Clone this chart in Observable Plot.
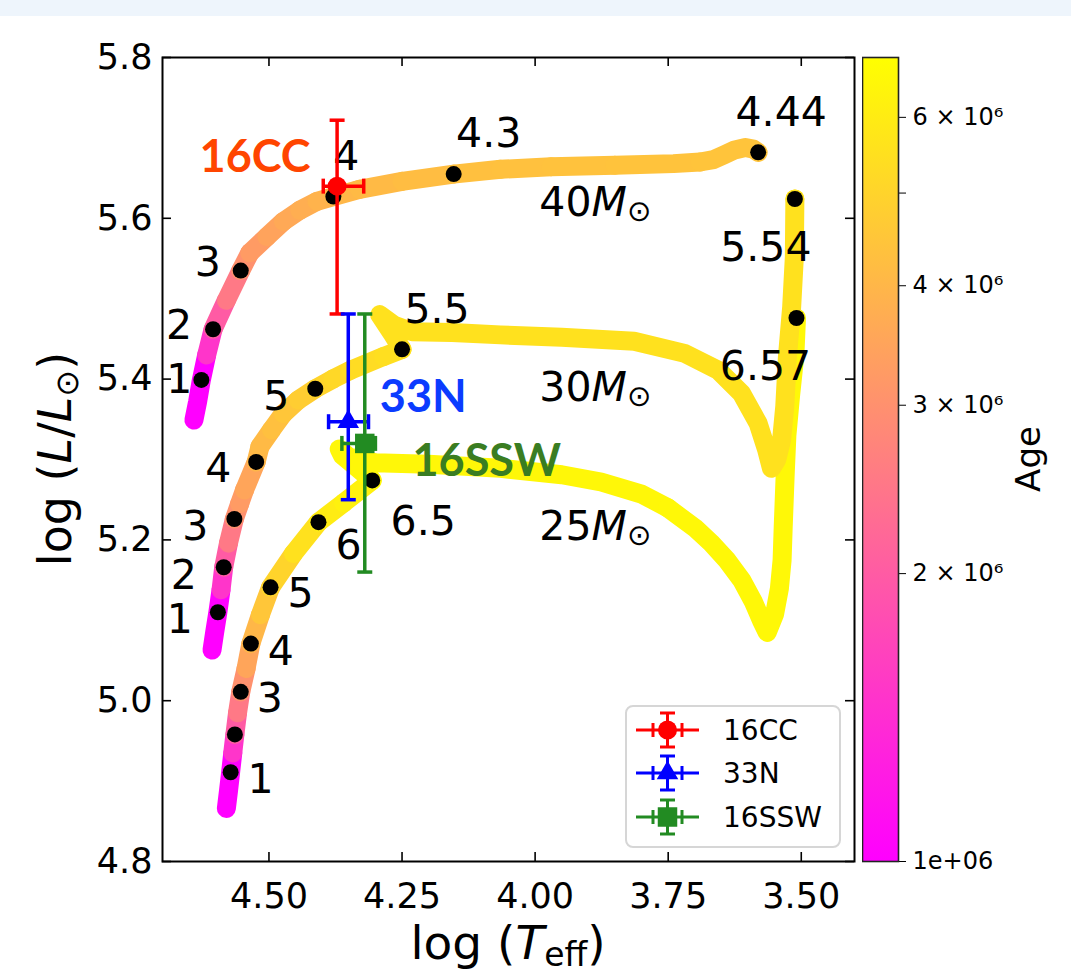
<!DOCTYPE html>
<html><head><meta charset="utf-8">
<script src="https://cdn.jsdelivr.net/npm/d3@7"></script>
<script src="https://cdn.jsdelivr.net/npm/@observablehq/plot@0.6"></script>
<style>
body{margin:0;background:#fff;}
#wrap{position:relative;width:1071px;height:973px;background:#fff;overflow:hidden;font-family:"DejaVu Sans";}
#band{position:absolute;left:0;top:0;width:1071px;height:16px;background:#eef5fc;z-index:5;}
#main,#cbar,#legend{position:absolute;top:0;left:0;}
#cbar{left:862px;}
</style></head><body>
<div id="wrap"><div id="main"></div><div id="cbar"></div><div id="legend"></div><div id="band"></div></div>
<script>
// ---------------- DATA ----------------
const xTicks = [4.50, 4.25, 4.00, 3.75, 3.50];
const yTicks = [4.8, 5.0, 5.2, 5.4, 5.6, 5.8];
const ageTicks = [1e6, 2e6, 3e6, 4e6, 5e6, 6e6];
const ageDomain = [1e6, 6.93e6];

// 40 Msun track (log Teff, log L, age in Myr)
const track40_logT = [4.641, 4.634, 4.627, 4.617, 4.605, 4.580, 4.553, 4.536, 4.504, 4.473, 4.442, 4.410, 4.379, 4.330, 4.250, 4.153, 4.065, 3.970, 3.850, 3.740, 3.690, 3.665, 3.645, 3.625, 3.605, 3.590, 3.581];
const track40_logL = [5.349, 5.372, 5.399, 5.430, 5.462, 5.498, 5.535, 5.557, 5.577, 5.596, 5.610, 5.621, 5.627, 5.636, 5.646, 5.655, 5.661, 5.664, 5.666, 5.668, 5.670, 5.673, 5.679, 5.685, 5.688, 5.686, 5.682];
const track40_age  = [0.7, 0.85, 1.0, 1.5, 2.0, 2.5, 3.0, 3.25, 3.45, 3.6, 3.75, 3.88, 4.0, 4.1, 4.2, 4.3, 4.33, 4.36, 4.39, 4.41, 4.415, 4.42, 4.425, 4.43, 4.435, 4.438, 4.44];

// 30 Msun track
const track30_logT = [4.607, 4.602, 4.596, 4.590, 4.585, 4.576, 4.565, 4.555, 4.546, 4.524, 4.517, 4.495, 4.473, 4.445, 4.413, 4.380, 4.347, 4.285, 4.250, 4.269, 4.292, 4.265, 4.231, 4.156, 4.065, 3.950, 3.814, 3.719, 3.656, 3.612, 3.581, 3.565, 3.556, 3.546, 3.537, 3.531, 3.526, 3.518, 3.513, 3.512];
const track30_logL = [5.063, 5.085, 5.110, 5.138, 5.166, 5.196, 5.226, 5.245, 5.262, 5.297, 5.316, 5.337, 5.357, 5.374, 5.388, 5.400, 5.411, 5.428, 5.437, 5.457, 5.480, 5.467, 5.459, 5.458, 5.455, 5.452, 5.447, 5.432, 5.411, 5.382, 5.345, 5.312, 5.289, 5.300, 5.324, 5.366, 5.428, 5.490, 5.552, 5.624];
const track30_age  = [0.7, 0.85, 1.0, 1.5, 2.0, 2.5, 3.0, 3.25, 3.5, 4.0, 4.1, 4.3, 4.5, 4.75, 5.0, 5.15, 5.3, 5.43, 5.5, 5.505, 5.51, 5.512, 5.515, 5.518, 5.52, 5.522, 5.525, 5.527, 5.529, 5.53, 5.531, 5.532, 5.533, 5.534, 5.535, 5.536, 5.537, 5.538, 5.539, 5.54];

// 25 Msun track
const track25_logT = [4.580, 4.576, 4.572, 4.568, 4.564, 4.559, 4.553, 4.543, 4.534, 4.516, 4.497, 4.454, 4.407, 4.360, 4.306, 4.335, 4.362, 4.368, 4.350, 4.300, 4.200, 4.065, 3.950, 3.876, 3.800, 3.751, 3.700, 3.669, 3.640, 3.612, 3.590, 3.575, 3.564, 3.550, 3.541, 3.536, 3.534, 3.532, 3.530, 3.527, 3.520, 3.512, 3.509];
const track25_logL = [4.866, 4.888, 4.911, 4.935, 4.958, 4.985, 5.011, 5.040, 5.071, 5.107, 5.141, 5.183, 5.222, 5.246, 5.274, 5.290, 5.305, 5.313, 5.303, 5.296, 5.294, 5.289, 5.281, 5.272, 5.257, 5.240, 5.215, 5.196, 5.175, 5.150, 5.123, 5.100, 5.085, 5.108, 5.140, 5.175, 5.215, 5.250, 5.285, 5.330, 5.380, 5.430, 5.476];
const track25_age  = [0.75, 0.88, 1.0, 1.5, 2.0, 2.5, 3.0, 3.5, 4.0, 4.5, 5.0, 5.5, 6.0, 6.25, 6.5, 6.51, 6.515, 6.52, 6.522, 6.525, 6.53, 6.535, 6.54, 6.543, 6.546, 6.548, 6.55, 6.552, 6.554, 6.556, 6.558, 6.56, 6.561, 6.562, 6.563, 6.564, 6.565, 6.566, 6.567, 6.568, 6.569, 6.5695, 6.57];

// age markers (black dots) with their labels (Myr)
const dots40_logT = [4.627, 4.605, 4.553, 4.379, 4.153, 3.581];
const dots40_logL = [5.399, 5.462, 5.535, 5.627, 5.655, 5.682];
const dots40_label = ["1", "2", "3", "4", "4.3", "4.44"];
const dots30_logT = [4.596, 4.585, 4.565, 4.524, 4.413, 4.250, 3.512];
const dots30_logL = [5.110, 5.166, 5.226, 5.297, 5.388, 5.437, 5.624];
const dots30_label = ["1", "2", "3", "4", "5", "5.5", "5.54"];
const dots25_logT = [4.572, 4.564, 4.553, 4.534, 4.497, 4.407, 4.306, 3.509];
const dots25_logL = [4.911, 4.958, 5.011, 5.071, 5.141, 5.222, 5.274, 5.476];
const dots25_label = ["1", "", "3", "4", "5", "6", "6.5", "6.57"];

// mass labels
const massNames = ["40", "30", "25"];
const massLabel_logT = [3.886, 3.886, 3.886];
const massLabel_logL = [5.602, 5.372, 5.199];

// observed objects
const obsNames = ["16CC", "33N", "16SSW"];
const obs_logT = [4.372, 4.351, 4.320];
const obs_logT_lo = [4.398, 4.388, 4.363];
const obs_logT_hi = [4.322, 4.313, 4.300];
const obs_logL = [5.640, 5.347, 5.320];
const obs_logL_lo = [5.481, 5.250, 5.160];
const obs_logL_hi = [5.722, 5.481, 5.481];

// ---------------- STYLE / LAYOUT ----------------
const obsColor = ["#ff0000", "#0000ff", "#228b22"];
const obsTextColor = ["#ff4500", "#0b3bff", "#3a7d22"];
const obsSymbol = ["circle", "triangle", "square"];
const obsR = [9.5, 8, 11];
const obsLabelOffset = [[-82, -29], [75, -24], [122, 18]];
const off40 = [[-22, 0], [-34, -3], [-33, -8], [13, -40], [35, -40], [23, -39]];
const off30 = [[-38, 8], [-40, 9], [-39, 8], [-38, 7], [-39, 8], [35, -39], [-29, 49]];
const off25 = [[30, 8], [0, 0], [29, 7], [30, 8], [30, 7], [30, 24], [51, 41], [-31, 49]];

const W = 1071, H = 973, ML = 162, MR = 217, MT = 57, MB = 112;
const innerW = W - ML - MR, innerH = H - MT - MB;

const tracks = [
  {T: track25_logT, L: track25_logL, A: track25_age},
  {T: track30_logT, L: track30_logL, A: track30_age},
  {T: track40_logT, L: track40_logL, A: track40_age}
];
const dotSets = [
  {T: dots40_logT, L: dots40_logL, lab: dots40_label, off: off40},
  {T: dots30_logT, L: dots30_logL, lab: dots30_label, off: off30},
  {T: dots25_logT, L: dots25_logL, lab: dots25_label, off: off25}
];

const trackRows = t => t.T.map((v, i) => ({logT: v, logL: t.L[i], age: t.A[i] * 1e6}));
const allDots = dotSets.flatMap(s => s.T.map((v, i) => ({logT: v, logL: s.L[i], label: s.lab[i], off: s.off[i]})));
const obsRows = obsNames.map((n, i) => ({name: n, logT: obs_logT[i], tLo: obs_logT_lo[i], tHi: obs_logT_hi[i],
  logL: obs_logL[i], lLo: obs_logL_lo[i], lHi: obs_logL_hi[i]}));

const capH = {draw(ctx, size) { const r = Math.sqrt(size / Math.PI); ctx.moveTo(-r, 0); ctx.lineTo(r, 0); }};
const capV = {draw(ctx, size) { const r = Math.sqrt(size / Math.PI); ctx.moveTo(0, -r); ctx.lineTo(0, r); }};

const marks = [];
// tracks
tracks.forEach(t => marks.push(Plot.line(trackRows(t), {
  x: "logT", y: "logL", z: null, stroke: "age", strokeWidth: 19,
  strokeLinecap: "round", strokeLinejoin: "round"
})));
// age dots
marks.push(Plot.dot(allDots, {x: "logT", y: "logL", r: 8, fill: "black"}));
// age labels
allDots.forEach(d => {
  if (d.label) marks.push(Plot.text([d], {x: "logT", y: "logL", text: "label", dx: d.off[0], dy: d.off[1],
    fontSize: 41, fill: "black", textAnchor: "middle", lineAnchor: "middle", fontFamily: "DejaVu Sans"}));
});
// error bars
obsRows.forEach((r, i) => {
  const c = obsColor[i];
  marks.push(Plot.ruleY([r], {y: "logL", x1: "tLo", x2: "tHi", stroke: c, strokeWidth: 3.5}));
  marks.push(Plot.ruleX([r], {x: "logT", y1: "lLo", y2: "lHi", stroke: c, strokeWidth: 3.5}));
  marks.push(Plot.dot([r], {x: "logT", y: "lLo", symbol: capH, r: 7.5, stroke: c, strokeWidth: 3.5}));
  marks.push(Plot.dot([r], {x: "logT", y: "lHi", symbol: capH, r: 7.5, stroke: c, strokeWidth: 3.5}));
  marks.push(Plot.dot([r], {x: "tLo", y: "logL", symbol: capV, r: 7.5, stroke: c, strokeWidth: 3.5}));
  marks.push(Plot.dot([r], {x: "tHi", y: "logL", symbol: capV, r: 7.5, stroke: c, strokeWidth: 3.5}));
});
obsRows.forEach((r, i) => {
  marks.push(Plot.dot([r], {x: "logT", y: "logL", symbol: obsSymbol[i], r: obsR[i], fill: obsColor[i]}));
});
obsRows.forEach((r, i) => {
  marks.push(Plot.text([r], {x: "logT", y: "logL", text: "name", dx: obsLabelOffset[i][0], dy: obsLabelOffset[i][1],
    fill: obsTextColor[i], fontSize: 45, fontWeight: 700, fontFamily: "Lato", textAnchor: "middle", lineAnchor: "middle"}));
});
// inward ticks on four sides
marks.push(Plot.ruleX(xTicks, {x: d => d, insetTop: innerH - 9, stroke: "black", strokeWidth: 1.6}));
marks.push(Plot.ruleX(xTicks, {x: d => d, insetBottom: innerH - 9, stroke: "black", strokeWidth: 1.6}));
marks.push(Plot.ruleY(yTicks, {y: d => d, insetRight: innerW - 9, stroke: "black", strokeWidth: 1.6}));
marks.push(Plot.ruleY(yTicks, {y: d => d, insetLeft: innerW - 9, stroke: "black", strokeWidth: 1.6}));
marks.push(Plot.frame({stroke: "black", strokeWidth: 2}));

const chart = Plot.plot({
  width: W, height: H, marginLeft: ML, marginRight: MR, marginTop: MT, marginBottom: MB,
  style: {background: "transparent", fontFamily: "DejaVu Sans", fontSize: "35px", color: "black"},
  x: {domain: [4.70, 3.40], ticks: xTicks, tickFormat: d => d.toFixed(2), tickSize: 0, tickPadding: 22, label: null},
  y: {domain: [4.8, 5.8], ticks: yTicks, tickFormat: d => d.toFixed(1), tickSize: 0, tickPadding: 10, label: null},
  color: {type: "log", domain: ageDomain, range: ["#ff00ff", "#ffff00"], interpolate: "rgb", clamp: true},
  marks
});
document.getElementById("main").appendChild(chart);

// scales from Plot
const sxo = chart.scale("x"), syo = chart.scale("y");
const sx = sxo.apply ? (v => sxo.apply(v)) : d3.scaleLinear(sxo.domain, sxo.range);
const sy = syo.apply ? (v => syo.apply(v)) : d3.scaleLinear(syo.domain, syo.range);

const svg = d3.select(chart);
// mass labels
massNames.forEach((m, i) => {
  const t = svg.append("text").attr("x", sx(massLabel_logT[i])).attr("y", sy(massLabel_logL[i]))
    .attr("text-anchor", "middle").attr("font-family", "DejaVu Sans").attr("font-size", 41).attr("fill", "black");
  t.append("tspan").text(m);
  t.append("tspan").attr("font-style", "italic").text("M");
  t.append("tspan").attr("font-size", 29).attr("dy", 5).text("\u2299");
});
// axis titles
{
  const t = svg.append("text").attr("x", ML + innerW / 2).attr("y", 959).attr("text-anchor", "middle")
    .attr("font-family", "DejaVu Sans").attr("font-size", 47).attr("fill", "black");
  t.append("tspan").text("log (");
  t.append("tspan").attr("font-style", "italic").text("T");
  t.append("tspan").attr("font-size", 33).attr("dy", 7).text("eff");
  t.append("tspan").attr("dy", -7).text(")");
}
{
  const t = svg.append("text").attr("transform", `translate(71,${MT + innerH / 2}) rotate(-90)`).attr("text-anchor", "middle")
    .attr("font-family", "DejaVu Sans").attr("font-size", 46).attr("fill", "black");
  t.append("tspan").text("log (");
  t.append("tspan").attr("font-style", "italic").text("L");
  t.append("tspan").text("/");
  t.append("tspan").attr("font-style", "italic").text("L");
  t.append("tspan").attr("font-size", 32).attr("dy", 7).text("\u2299");
  t.append("tspan").attr("dy", -7).text(")");
}

// ---------------- COLORBAR ----------------
const cbW = 36;
const cb = Plot.plot({
  width: 209, height: H, marginLeft: 0, marginRight: 209 - cbW, marginTop: MT, marginBottom: MB,
  style: {background: "transparent", fontFamily: "DejaVu Sans", fontSize: "24px", color: "black"},
  x: {domain: [0, 1], axis: null},
  y: {type: "log", domain: ageDomain, axis: "right", ticks: ageTicks, tickSize: 7, tickPadding: 7, label: null,
      tickFormat: d => d === 1e6 ? "1e+06" : d === 5e6 ? "" : `${Math.round(d / 1e6)} \u00d7 10\u2076`},
  marks: [
    Plot.rect([{}], {x1: 0, x2: 1, y1: ageDomain[0], y2: ageDomain[1], fill: "#ff00fe"}),
    Plot.frame({stroke: "#222", strokeWidth: 1.6})
  ]
});
document.getElementById("cbar").appendChild(cb);
{
  const s = d3.select(cb);
  const defs = s.insert("defs", ":first-child");
  const g = defs.append("linearGradient").attr("id", "cbgrad").attr("x1", 0).attr("y1", 1).attr("x2", 0).attr("y2", 0);
  g.append("stop").attr("offset", 0).attr("stop-color", "#ff00ff");
  g.append("stop").attr("offset", 1).attr("stop-color", "#ffff00");
  s.selectAll('[fill="#ff00fe"]').attr("fill", "url(#cbgrad)");
  s.append("text").attr("transform", `translate(178,${MT + innerH / 2}) rotate(-90)`).attr("text-anchor", "middle")
    .attr("font-family", "DejaVu Sans").attr("font-size", 34).attr("fill", "black").text("Age");
}

// ---------------- LEGEND ----------------
{
  const lg = d3.select("#legend").append("svg").attr("width", W).attr("height", H);
  lg.append("rect").attr("x", 626).attr("y", 706).attr("width", 214).attr("height", 141).attr("rx", 7)
    .attr("fill", "white").attr("fill-opacity", 0.85).attr("stroke", "#d6d6d6").attr("stroke-width", 2);
  const rowsY = [730, 773, 817];
  obsNames.forEach((n, i) => {
    const y = rowsY[i], cx = 667.5, c = obsColor[i];
    const g = lg.append("g").attr("stroke", c).attr("stroke-width", 3);
    g.append("line").attr("x1", 636).attr("x2", 699).attr("y1", y).attr("y2", y);
    g.append("line").attr("x1", 653).attr("x2", 653).attr("y1", y - 7).attr("y2", y + 7);
    g.append("line").attr("x1", 682).attr("x2", 682).attr("y1", y - 7).attr("y2", y + 7);
    g.append("line").attr("x1", cx).attr("x2", cx).attr("y1", y - 17).attr("y2", y + 17);
    g.append("line").attr("x1", cx - 7.5).attr("x2", cx + 7.5).attr("y1", y - 17).attr("y2", y - 17);
    g.append("line").attr("x1", cx - 7.5).attr("x2", cx + 7.5).attr("y1", y + 17).attr("y2", y + 17);
    const sym = {circle: d3.symbolCircle, triangle: d3.symbolTriangle, square: d3.symbolSquare}[obsSymbol[i]];
    lg.append("path").attr("transform", `translate(${cx},${y})`)
      .attr("d", d3.symbol(sym, Math.PI * obsR[i] * obsR[i])()).attr("fill", c);
    lg.append("text").attr("x", 723).attr("y", y).attr("dy", "0.36em").attr("font-family", "DejaVu Sans")
      .attr("font-size", 28).attr("fill", "black").text(n);
  });
}
</script>
</body></html>
